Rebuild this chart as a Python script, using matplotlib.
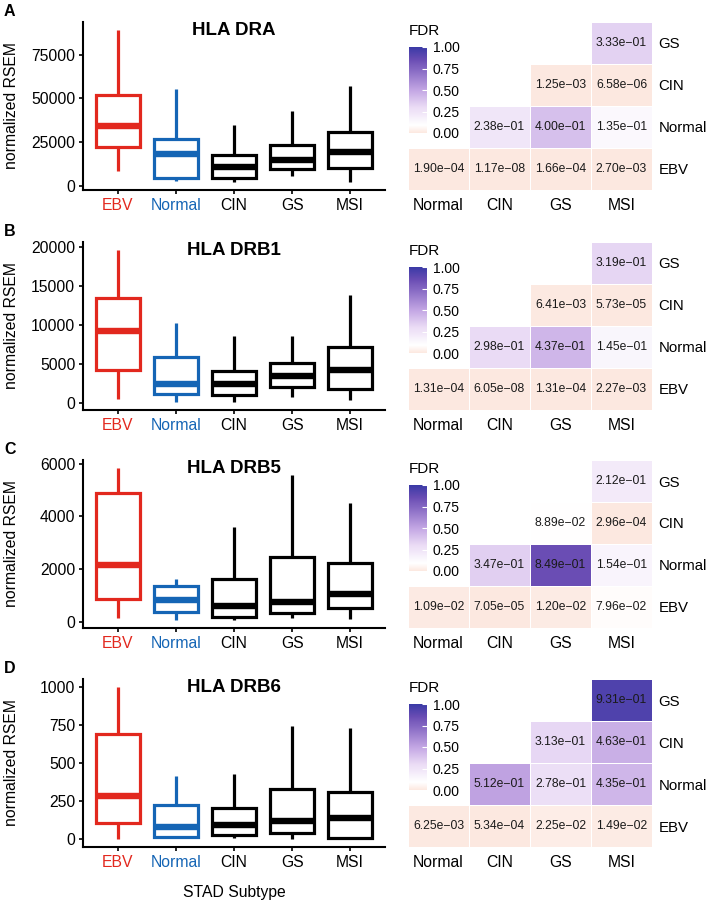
import matplotlib
matplotlib.use('Agg')
import matplotlib.pyplot as plt
import numpy as np
from matplotlib.colors import LinearSegmentedColormap, Normalize
from matplotlib.cm import ScalarMappable

plt.rcParams['font.family'] = ['Liberation Sans', 'DejaVu Sans']

# ---------------- data ----------------
subtypes = ['EBV', 'Normal', 'CIN', 'GS', 'MSI']
genes = ['HLA DRA', 'HLA DRB1', 'HLA DRB5', 'HLA DRB6']
panel_letters = ['A', 'B', 'C', 'D']

# box statistics, order EBV, Normal, CIN, GS, MSI
dra_lo = [8600, 2900, 1900, 5700, 2300]
dra_q1 = [22400, 4400, 4400, 9600, 10100]
dra_med = [34400, 18200, 10500, 14700, 19100]
dra_q3 = [51700, 26800, 17600, 23000, 31000]
dra_hi = [89300, 55500, 34800, 42500, 57000]

drb1_lo = [500, 200, 100, 770, 430]
drb1_q1 = [4190, 1200, 1000, 2050, 1800]
drb1_med = [9270, 2480, 2440, 3500, 4190]
drb1_q3 = [13460, 5900, 4150, 5200, 7260]
drb1_hi = [19700, 10260, 8630, 8630, 13900]

drb5_lo = [150, 90, 60, 150, 100]
drb5_q1 = [880, 380, 190, 340, 530]
drb5_med = [2150, 850, 590, 760, 1070]
drb5_q3 = [4900, 1350, 1640, 2460, 2240]
drb5_hi = [5850, 1640, 3600, 5560, 4510]

drb6_lo = [4, 7, 7, 4, 0]
drb6_q1 = [109, 17, 28, 39, 7]
drb6_med = [288, 81, 92, 120, 142]
drb6_q3 = [692, 229, 207, 332, 310]
drb6_hi = [1004, 415, 430, 747, 731]

dra_yticks = [0, 25000, 50000, 75000]
drb1_yticks = [0, 5000, 10000, 15000, 20000]
drb5_yticks = [0, 2000, 4000, 6000]
drb6_yticks = [0, 250, 500, 750, 1000]

# FDR heatmap (upper triangle): rows bottom->top, cols left->right
heat_rows = ['EBV', 'Normal', 'CIN', 'GS']
heat_cols = ['Normal', 'CIN', 'GS', 'MSI']
fdr_dra = [[1.90e-04, 1.17e-08, 1.66e-04, 2.70e-03],
           [2.38e-01, 4.00e-01, 1.35e-01],
           [1.25e-03, 6.58e-06],
           [3.33e-01]]
fdr_drb1 = [[1.31e-04, 6.05e-08, 1.31e-04, 2.27e-03],
            [2.98e-01, 4.37e-01, 1.45e-01],
            [6.41e-03, 5.73e-05],
            [3.19e-01]]
fdr_drb5 = [[1.09e-02, 7.05e-05, 1.20e-02, 7.96e-02],
            [3.47e-01, 8.49e-01, 1.54e-01],
            [8.89e-02, 2.96e-04],
            [2.12e-01]]
fdr_drb6 = [[6.25e-03, 5.34e-04, 2.25e-02, 1.49e-02],
            [5.12e-01, 2.78e-01, 4.35e-01],
            [3.13e-01, 4.63e-01],
            [9.31e-01]]
fdr_ticks = [0.0, 0.25, 0.5, 0.75, 1.0]

box_data = [
    (dra_lo, dra_q1, dra_med, dra_q3, dra_hi, dra_yticks),
    (drb1_lo, drb1_q1, drb1_med, drb1_q3, drb1_hi, drb1_yticks),
    (drb5_lo, drb5_q1, drb5_med, drb5_q3, drb5_hi, drb5_yticks),
    (drb6_lo, drb6_q1, drb6_med, drb6_q3, drb6_hi, drb6_yticks),
]
fdr_data = [fdr_dra, fdr_drb1, fdr_drb5, fdr_drb6]

# ---------------- style ----------------
RED = '#E2281E'
BLUE = '#1565B5'
subtype_colors = {'EBV': RED, 'Normal': BLUE}
cmap = LinearSegmentedColormap.from_list('fdr', [
    (0.0, '#FCE8E0'), (0.09, '#FFFFFF'), (0.3, '#EADBF5'),
    (0.5, '#C2A5E3'), (0.85, '#6A4DB4'), (1.0, '#3A3AA6')])
norm = Normalize(0, 1)

W, H = 709, 901
fig = plt.figure(figsize=(W / 100, H / 100), dpi=100)


def px_axes(x0, y0, x1, y1):
    return fig.add_axes([x0 / W, 1 - y1 / H, (x1 - x0) / W, (y1 - y0) / H])


panel_tops = [22, 242, 460, 679]
panel_h = 168

for p in range(4):
    top = panel_tops[p]
    lo, q1, med, q3, hi, yt = box_data[p]
    ax = px_axes(83, top, 385, top + panel_h)
    stats = [dict(whislo=lo[i], q1=q1[i], med=med[i], q3=q3[i], whishi=hi[i],
                  fliers=[], label=subtypes[i]) for i in range(len(subtypes))]
    res = ax.bxp(stats, positions=np.arange(1, len(subtypes) + 1), widths=0.75,
                 showcaps=False, showfliers=False, patch_artist=True,
                 boxprops=dict(linewidth=2.3, facecolor='white', joinstyle='miter'),
                 medianprops=dict(linewidth=4.6, solid_capstyle='butt'),
                 whiskerprops=dict(linewidth=2.3, solid_capstyle='butt'))
    for i, s in enumerate(subtypes):
        c = subtype_colors.get(s, 'black')
        res['boxes'][i].set_edgecolor(c)
        res['medians'][i].set_color(c)
        res['whiskers'][2 * i].set_color(c)
        res['whiskers'][2 * i + 1].set_color(c)
    dmin, dmax = min(lo), max(hi)
    pad = 0.05 * (dmax - dmin)
    ax.set_ylim(dmin - pad, dmax + pad)
    ax.set_xlim(0.4, len(subtypes) + 0.6)
    ax.set_yticks(yt)
    ax.set_yticklabels([str(v) for v in yt])
    ax.set_xticks(np.arange(1, len(subtypes) + 1))
    ax.set_xticklabels(subtypes)
    for lab, s in zip(ax.get_xticklabels(), subtypes):
        lab.set_color(subtype_colors.get(s, 'black'))
    for sp in ['top', 'right']:
        ax.spines[sp].set_visible(False)
    for sp in ['left', 'bottom']:
        ax.spines[sp].set_linewidth(1.5)
    ax.tick_params(axis='both', length=3, width=1.2, labelsize=11.3, pad=2.5)
    ax.set_ylabel('normalized RSEM', fontsize=11.3)
    ax.yaxis.set_label_coords(-0.212, 0.5)
    ax.text(0.5, 0.925, genes[p], transform=ax.transAxes, ha='center',
            va='baseline', fontsize=13.5, fontweight='bold')
    if p == 3:
        ax.set_xlabel('STAD Subtype', fontsize=11.3, labelpad=11)
    fig.text(4 / W, 1 - (top - 18) / H, panel_letters[p], fontsize=11.5,
             fontweight='bold', va='top', ha='left')

    # heatmap
    hx = px_axes(408, top, 652, top + panel_h)
    n = len(heat_rows)
    mat = np.full((n, n), np.nan)
    for i, row in enumerate(fdr_data[p]):
        for k, v in enumerate(row):
            mat[i, i + k] = v
    hx.pcolormesh(np.arange(n + 1), np.arange(n + 1), np.ma.masked_invalid(mat),
                  cmap=cmap, norm=norm, edgecolors='white', linewidth=0.6)
    for i in range(n):
        for j in range(n):
            if not np.isnan(mat[i, j]):
                hx.text(j + 0.5, i + 0.5, f'{mat[i, j]:.2e}'.replace('-', '\u2212'),
                        ha='center', va='center', fontsize=8.7, color='#1a1a1a')
    hx.set_xlim(0, n)
    hx.set_ylim(0, n)
    hx.set_xticks(np.arange(n) + 0.5)
    hx.set_xticklabels(heat_cols)
    hx.set_yticks(np.arange(n) + 0.5)
    hx.set_yticklabels(heat_rows)
    hx.yaxis.tick_right()
    hx.tick_params(axis='x', length=0, labelsize=11.3, pad=6)
    hx.tick_params(axis='y', length=0, labelsize=10.8, pad=4.5)
    for sp in hx.spines.values():
        sp.set_visible(False)

    # colorbar
    cax = px_axes(409, top + 25, 427, top + 111)
    cb = fig.colorbar(ScalarMappable(norm=norm, cmap=cmap), cax=cax)
    cb.set_ticks(fdr_ticks)
    cb.set_ticklabels([f'{t:.2f}' for t in fdr_ticks])
    cb.outline.set_visible(False)
    cax.tick_params(axis='y', direction='in', color='white', length=3.5,
                    width=0.8, labelsize=10, pad=4)
    fig.text(409 / W, 1 - (top + 9) / H, 'FDR', fontsize=11, va='center',
             ha='left')

fig.savefig('out.png', dpi=100)
